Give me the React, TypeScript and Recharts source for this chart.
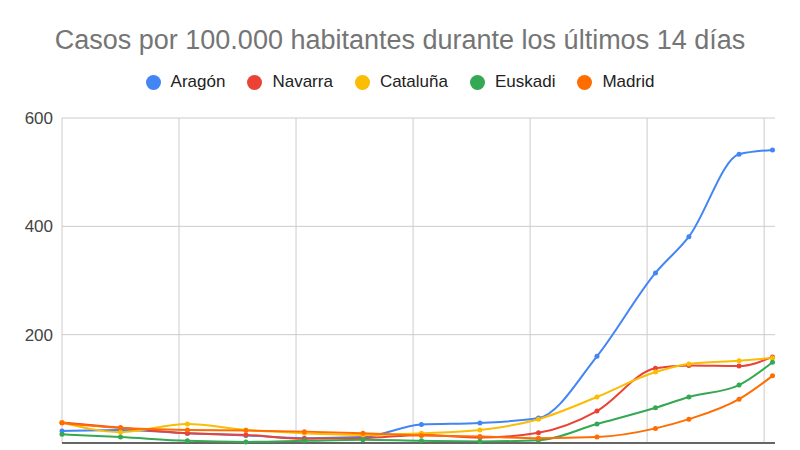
import {
  LineChart,
  Line,
  XAxis,
  YAxis,
  CartesianGrid,
  ReferenceLine
} from 'recharts'

// day offsets of each report (irregular spacing at the end)
const days = [0, 7, 15, 22, 29, 36, 43, 50, 57, 64, 71, 75, 81, 85]

const aragon = [22, 24, 18, 14, 9, 11, 34, 37, 46, 160, 314, 381, 533, 541]
const navarra = [38, 28, 18, 15, 8, 9, 15, 10, 19, 59, 138, 143, 142, 159]
const cataluna = [38, 20, 35, 24, 18, 15, 18, 24, 44, 85, 131, 146, 152, 157]
const euskadi = [16, 11, 4, 2, 4, 6, 4, 3, 5, 35, 65, 85, 107, 149]
const madrid = [37, 28, 24, 23, 21, 18, 14, 12, 9, 11, 27, 44, 81, 124]

const yTicks = [0, 200, 400, 600]
const xTicks = [0, 14, 28, 42, 56, 70, 84]

const SERIES = [
  { key: 'aragon', name: 'Aragón', color: '#4285F4' },
  { key: 'navarra', name: 'Navarra', color: '#EA4335' },
  { key: 'cataluna', name: 'Cataluña', color: '#FBBC04' },
  { key: 'euskadi', name: 'Euskadi', color: '#34A853' },
  { key: 'madrid', name: 'Madrid', color: '#FF6D01' }
]

const data = days.map((d, i) => ({
  day: d,
  aragon: aragon[i],
  navarra: navarra[i],
  cataluna: cataluna[i],
  euskadi: euskadi[i],
  madrid: madrid[i]
}))

const FONT = '"Liberation Sans", Arial, sans-serif'

export default function App() {
  return (
    <div style={{ position: 'absolute', left: 0, top: 0, width: 800, height: 450, background: '#fff' }}>
      <div
        style={{
          position: 'absolute',
          top: 25,
          left: 0,
          width: 800,
          textAlign: 'center',
          fontFamily: FONT,
          fontSize: 27,
          color: '#757575'
        }}
      >
        Casos por 100.000 habitantes durante los últimos 14 días
      </div>
      <div
        style={{
          position: 'absolute',
          top: 72,
          left: 0,
          width: 800,
          display: 'flex',
          justifyContent: 'center',
          fontFamily: FONT,
          fontSize: 17,
          color: '#222'
        }}
      >
        {SERIES.map(s => (
          <div key={s.key} style={{ display: 'flex', alignItems: 'center', margin: '0 11px' }}>
            <span
              style={{
                width: 15,
                height: 15,
                borderRadius: '50%',
                background: s.color,
                display: 'inline-block',
                marginRight: 10
              }}
            />
            {s.name}
          </div>
        ))}
      </div>
      <LineChart
        width={800}
        height={450}
        data={data}
        margin={{ top: 118, right: 25, bottom: 7, left: 0 }}
      >
        <CartesianGrid stroke="#cccccc" strokeWidth={1} vertical={false} />
        <XAxis
          dataKey="day"
          type="number"
          domain={[0, 85.3]}
          ticks={xTicks}
          tick={false}
          tickLine={false}
          axisLine={false}
          height={0}
        />
        <YAxis
          domain={[0, 600]}
          ticks={yTicks}
          width={62}
          tickLine={false}
          axisLine={false}
          tickMargin={3}
          tick={{ fontFamily: FONT, fontSize: 17, fill: '#444' }}
        />
        {xTicks.map(t => (
          <ReferenceLine key={t} x={t} stroke="#cccccc" strokeWidth={1} />
        ))}
        <ReferenceLine y={0} stroke="#666" strokeWidth={2} />
        {SERIES.map(s => (
          <Line
            key={s.key}
            type="monotone"
            dataKey={s.key}
            name={s.name}
            stroke={s.color}
            strokeWidth={2}
            dot={{ r: 2.5, fill: s.color, stroke: s.color, strokeWidth: 0 }}
            isAnimationActive={false}
          />
        ))}
      </LineChart>
    </div>
  )
}
